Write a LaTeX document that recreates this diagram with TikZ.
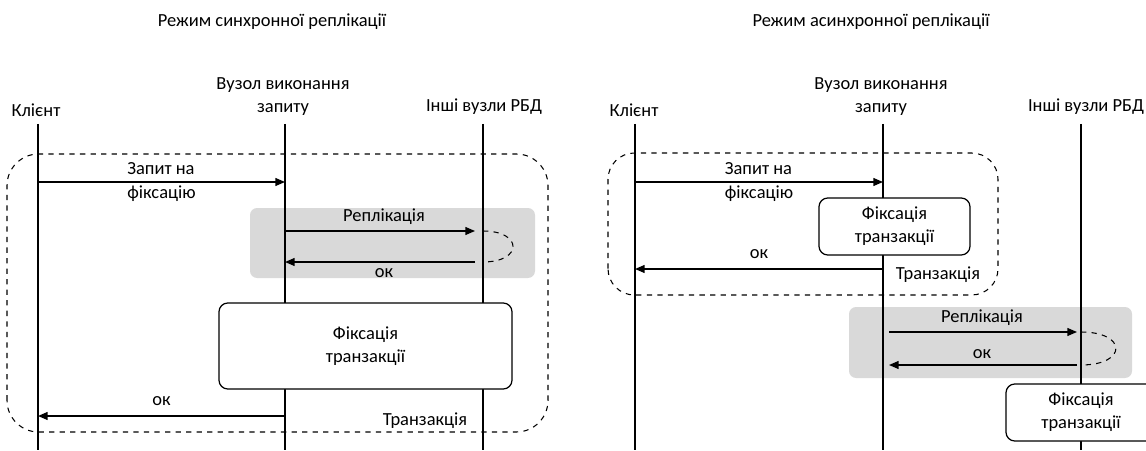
\documentclass[tikz,border=0pt]{standalone}
\usepackage{fontspec}
\setmainfont{Carlito}
\usetikzlibrary{arrows.meta}

\begin{document}
\begin{tikzpicture}[
  font=\fontsize{10.5}{13}\selectfont,
  life/.style={line width=0.6pt},
  msg/.style={-{Triangle[length=5.5pt, width=4.5pt]}, line width=0.8pt},
  lp/.style={dashed, line width=0.6pt},
  fixbox/.style={draw, rounded corners=5pt, fill=white, align=center, line width=0.7pt},
  txbox/.style={draw, dashed, rounded corners=18pt, line width=0.6pt},
  replbg/.style={fill=gray!30, draw=none, rounded corners=4pt},
  head/.style={align=center},
]
\useasboundingbox (0,0) rectangle (22.92,9);
\clip (0,0) rectangle (22.92,9);

% Titles
\node (ttl1) at (5.44,8.56) {Режим синхронної реплікації};
\node (ttl2) at (17.42,8.56) {Режим асинхронної реплікації};

% Heads
\node (hc1) at (0.72,6.8) {Клієнт};
\node[head] (hq1) at (5.66,7.07) {Вузол виконання\\запиту};
\node (hr1) at (9.68,6.86) {Інші вузли РБД};
\node (hc2) at (12.68,6.8) {Клієнт};
\node[head] (hq2) at (17.62,7.07) {Вузол виконання\\запиту};
\node (hr2) at (21.72,6.86) {Інші вузли РБД};

% Replication background
\draw[replbg] (5.0,3.44) rectangle (10.7,4.84);
\draw[replbg] (16.98,1.44) rectangle (22.64,2.86);

% Lifelines
\foreach \n/\x in {c1/0.76, q1/5.70, r1/9.66, c2/12.70, q2/17.66, r2/21.62} {
  \coordinate (\n t) at (\x,6.52);
  \coordinate (\n b) at (\x,0);
  \draw[life] (\n t) -- (\n b);
}

% Transactions
\draw[txbox] (0.14,0.36) rectangle (10.96,5.92);
\draw[txbox, rounded corners=15pt] (12.16,3.10) rectangle (19.96,5.94);

% Commit boxes
\node[fixbox, minimum width=5.86cm, minimum height=1.72cm] (fix1) at (7.31,2.08) {Фіксація\\транзакції};
\node[fixbox, minimum width=3.02cm, minimum height=1.14cm] (fix2) at (17.89,4.47) {Фіксація\\транзакції};
\node[fixbox, minimum width=3.0cm, minimum height=1.14cm] (fix3) at (21.62,0.75) {Фіксація\\транзакції};

% Message levels
\coordinate (m1) at (0,5.36);
\coordinate (m2) at (0,4.38);
\coordinate (m3) at (0,3.76);
\coordinate (m4) at (0,0.68);
\coordinate (n1) at (0,5.36);
\coordinate (n2) at (0,3.62);
\coordinate (n3) at (0,2.36);
\coordinate (n4) at (0,1.70);

% Synchronous
\draw[msg] (c1t |- m1) -- (q1t |- m1) node[midway, align=left] {Запит на\\[1pt]фіксацію};
\draw[msg, shorten >=0.16cm] (q1t |- m2) -- (r1t |- m2) node[midway, above] {Реплікація};
\draw[lp] (r1t |- m2) .. controls +(0.8,0) and +(0.8,0) .. (r1t |- m3);
\draw[msg, shorten <=0.16cm] (r1t |- m3) -- (q1t |- m3) node[midway, below] {ок};
\draw[msg] (q1t |- m4) -- (c1t |- m4) node[midway, above=2pt] {ок};
\node (tx1) at (8.5,0.58) {Транзакція};

% Asynchronous
\draw[msg] (c2t |- n1) -- (q2t |- n1) node[midway, align=left] {Запит на\\[1pt]фіксацію};
\draw[msg] (q2t |- n2) -- (c2t |- n2) node[midway, above=2pt] {ок};
\node (tx2) at (18.76,3.5) {Транзакція};
\draw[msg, shorten <=0.12cm, shorten >=0.08cm] (q2t |- n3) -- (r2t |- n3) node[midway, above] {Реплікація};
\draw[lp] (r2t |- n3) .. controls +(0.93,0) and +(0.93,0) .. (r2t |- n4);
\draw[msg, shorten <=0.08cm, shorten >=0.12cm] (r2t |- n4) -- (q2t |- n4) node[midway, above] {ок};
\end{tikzpicture}
\end{document}
